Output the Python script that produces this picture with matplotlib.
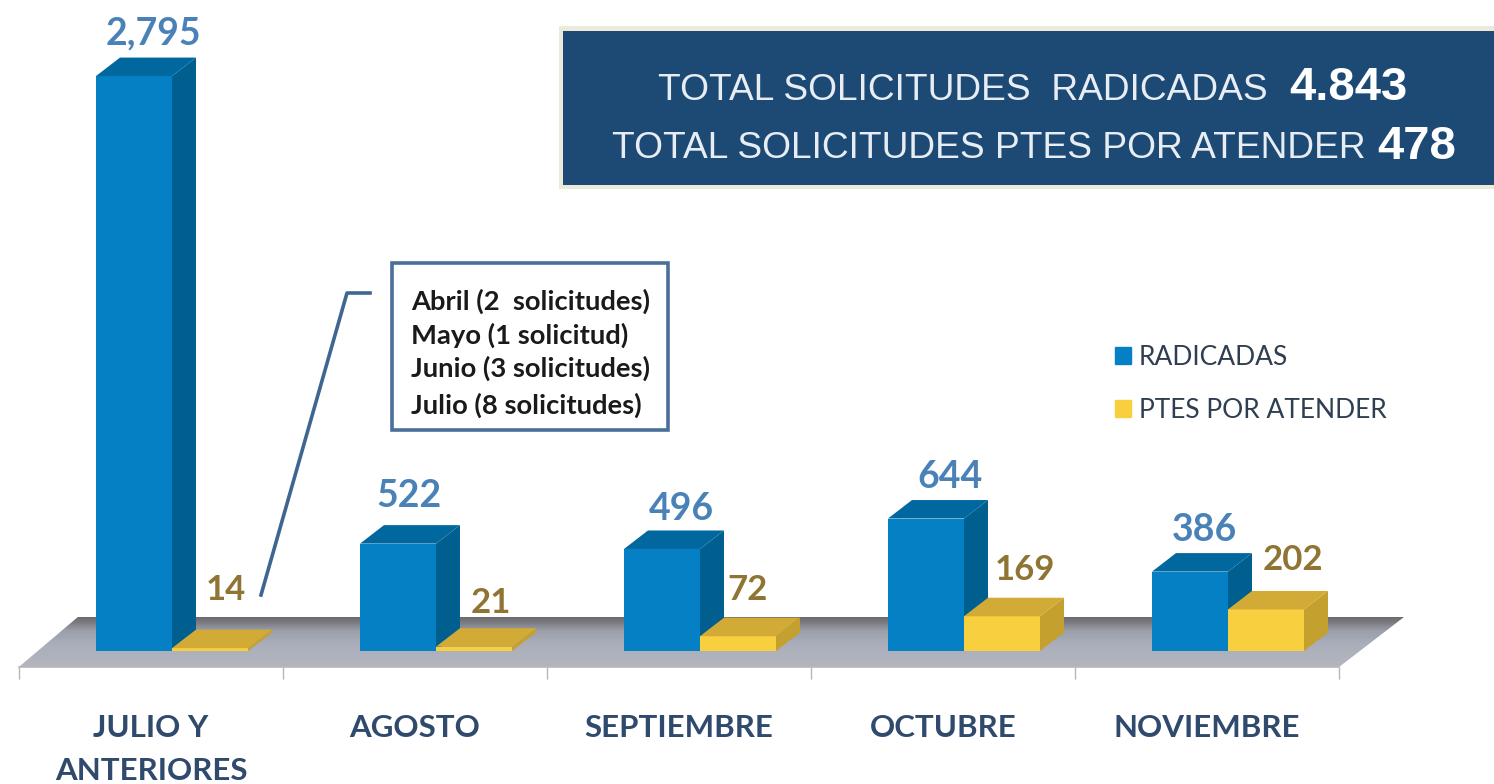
import matplotlib
matplotlib.use('Agg')
import matplotlib.pyplot as plt
import numpy as np
from matplotlib.colors import LinearSegmentedColormap
from matplotlib.patches import Polygon, Rectangle, Patch
from matplotlib.lines import Line2D

categories = ['JULIO Y\nANTERIORES', 'AGOSTO', 'SEPTIEMBRE', 'OCTUBRE', 'NOVIEMBRE']
radicadas = [2795, 522, 496, 644, 386]
ptes = [14, 21, 72, 169, 202]
radicadas_labels = ['2,795', '522', '496', '644', '386']
ptes_labels = ['14', '21', '72', '169', '202']
nota = ['Abril (2  solicitudes)', 'Mayo (1 solicitud)', 'Junio (3 solicitudes)', 'Julio (8 solicitudes)']

W, H = 1494, 784
PX_X = 264.0        # px per category
PX_Y = 0.2057       # px per solicitud
BAR_W = 76 / PX_X
DX = 24 / PX_X
DY = 18.5 / PX_Y

plt.rcParams['font.family'] = ['Lato', 'DejaVu Sans']

fig = plt.figure(figsize=(W / 100, H / 100), dpi=100)
ax = fig.add_axes([19 / W, (H - 667) / H, 1320 / W, 647 / H])
ax.set_xlim(0, 5)
ax.set_ylim(-16 / PX_Y, 631 / PX_Y)
ax.patch.set_visible(False)


def fx(x):
    return x / W


def fy(y):
    return 1 - y / H


def bar_3d(x0, value, front, side, top):
    ax.bar(x0, value, BAR_W, align='edge', color=front, zorder=3, clip_on=False)
    x1 = x0 + BAR_W
    ax.add_patch(Polygon([(x1, 0), (x1 + DX, DY), (x1 + DX, value + DY), (x1, value)],
                         color=side, lw=0, zorder=3, clip_on=False))
    ax.add_patch(Polygon([(x0, value), (x1, value), (x1 + DX, value + DY), (x0 + DX, value + DY)],
                         color=top, lw=0, zorder=3, clip_on=False))


# floor drawn as thin strips, dark at the back
floor_front = -16 / PX_Y
floor_back = 34 / PX_Y
skew_l = 59 / PX_X
skew_r = 65 / PX_X
cmap = LinearSegmentedColormap.from_list('piso', [(0, '#b3b5bb'), (0.45, '#a9aebb'), (0.72, '#9a9ea9'),
                                                  (0.9, '#77777d'), (1, '#68686d')])
n = 50
for k in range(n):
    t0, t1 = k / n, (k + 1.3) / n
    t1 = min(t1, 1)
    y0 = floor_front + (floor_back - floor_front) * t0
    y1 = floor_front + (floor_back - floor_front) * t1
    ax.add_patch(Polygon([(skew_l * t0, y0), (5 + skew_r * t0, y0), (5 + skew_r * t1, y1), (skew_l * t1, y1)],
                         color=cmap(t0), lw=0, zorder=1, clip_on=False))

for i in range(len(categories)):
    x_az = i + 77 / PX_X
    bar_3d(x_az, radicadas[i], '#0580c4', '#015f90', '#01689f')
    bar_3d(x_az + BAR_W, ptes[i], '#f8cf3e', '#c4a02f', '#d2aa36')

# axis line and ticks under the floor
for s in ['top', 'left', 'right']:
    ax.spines[s].set_visible(False)
ax.spines['bottom'].set_color('#b5b7bb')
ax.spines['bottom'].set_linewidth(1.2)
ax.set_yticks([])
ax.set_xticks(np.arange(6))
ax.set_xticklabels([])
ax.tick_params(axis='x', which='major', length=8.5, color='#b5b7bb', width=1)
ax.set_xticks(np.arange(5) + 0.5, minor=True)
ax.set_xticklabels(categories, minor=True, fontsize=22.5, fontweight='bold', color='#2f4a6d',
                   linespacing=1.66, va='top')
ax.tick_params(axis='x', which='minor', length=0, pad=33.5)

# value labels, centre of each text in px
rad_pos = [(153, 33), (409, 496), (681, 509), (950, 477), (1204, 530)]
pte_pos = [(226, 590), (491, 603), (748, 590), (1025, 570), (1293, 560)]
for txt, (x, y) in zip(radicadas_labels, rad_pos):
    fig.text(fx(x), fy(y), txt, color='#4a82b8', fontsize=27, fontweight='bold', ha='center', va='center')
for txt, (x, y) in zip(ptes_labels, pte_pos):
    fig.text(fx(x), fy(y), txt, color='#8f7433', fontsize=25, fontweight='bold', ha='center', va='center')

# header box
fig.patches.append(Rectangle((fx(559), fy(189)), fx(940), 163 / H, transform=fig.transFigure,
                             fc='#eceadb', ec='none', figure=fig))
fig.patches.append(Rectangle((fx(563), fy(185)), fx(931), 154 / H, transform=fig.transFigure,
                             fc='#1c4a75', ec='none', figure=fig))
fig.text(fx(1268), fy(90), 'TOTAL SOLICITUDES  RADICADAS', color='#e8edf3', fontsize=26.7,
         family='Liberation Sans', ha='right', va='center')
fig.text(fx(1289), fy(88), '4.843', color='white', fontsize=34, fontweight='bold',
         family='Liberation Sans', ha='left', va='center')
fig.text(fx(1366), fy(149), 'TOTAL SOLICITUDES PTES POR ATENDER', color='#e8edf3', fontsize=26.7,
         family='Liberation Sans', ha='right', va='center')
fig.text(fx(1377), fy(147), '478', color='white', fontsize=34, fontweight='bold',
         family='Liberation Sans', ha='left', va='center')

# note box with leader line
fig.patches.append(Rectangle((fx(392), fy(430)), fx(276), 167 / H, transform=fig.transFigure,
                             fc='white', ec='#4a6f9a', lw=2.6, figure=fig))
for txt, y in zip(nota, [301, 335, 368, 405]):
    fig.text(fx(411), fy(y), txt, color='#1a1a1a', fontsize=19.7, fontweight='bold', ha='left', va='center')
fig.add_artist(Line2D([fx(261), fx(347), fx(370)], [fy(595), fy(293), fy(293)],
                      color='#3f6690', lw=2.6))

# legend
handles = [Patch(color='#0580c4'), Patch(color='#f8cf3e')]
leg = ax.legend(handles, ['RADICADAS', 'PTES POR ATENDER'], loc='upper left', frameon=False,
                bbox_to_anchor=(fx(1115), fy(345)), bbox_transform=fig.transFigure,
                fontsize=19, labelcolor='#2f3e50', handlelength=0.6, handleheight=0.6,
                handletextpad=0.3, labelspacing=1.05, borderpad=0, borderaxespad=0)

fig.savefig('out.png', dpi=100)
